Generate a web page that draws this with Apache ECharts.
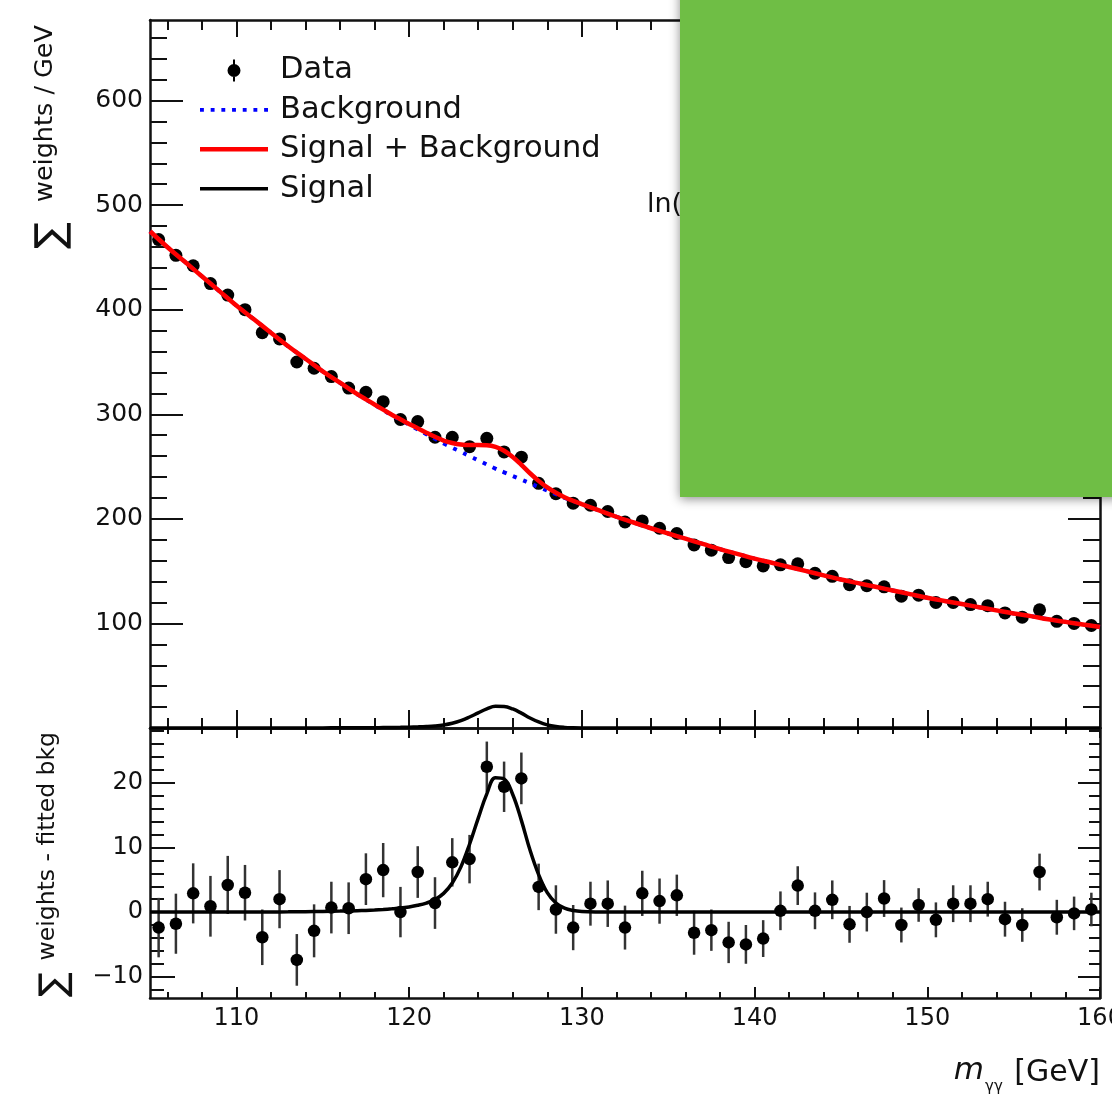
<!DOCTYPE html>
<html>
<head>
<meta charset="utf-8">
<script src="https://cdn.jsdelivr.net/npm/echarts@6/dist/echarts.min.js"></script>
<style>
  html, body { margin: 0; padding: 0; background: #ffffff; }
  #chart { width: 1112px; height: 1095px; }
</style>
</head>
<body>
<div id="chart"></div>
<script>
// Diphoton mass spectrum, ln(1+S/B) weighted, 1 GeV bins
const binCenters = [105.5,106.5,107.5,108.5,109.5,110.5,111.5,112.5,113.5,114.5,
  115.5,116.5,117.5,118.5,119.5,120.5,121.5,122.5,123.5,124.5,
  125.5,126.5,127.5,128.5,129.5,130.5,131.5,132.5,133.5,134.5,
  135.5,136.5,137.5,138.5,139.5,140.5,141.5,142.5,143.5,144.5,
  145.5,146.5,147.5,148.5,149.5,150.5,151.5,152.5,153.5,154.5,
  155.5,156.5,157.5,158.5,159.5];

// Sum of weights per GeV in each bin
const sumWeights = [467,452,442,425,414,400,378,372,350,344,
  336,325,321,312,295,293,278,278,269,277,
  264,259,234,224,215,213,207,197,198,191,
  186,175,170,163,159,155,156,157,148,145,
  137,136,135,126,127,120,120,118,117,110,
  106,113,102,100,98];

// Sum of weights minus the fitted background
const residuals = [-2.4,-1.8,2.9,0.9,4.2,3.0,-3.9,2.0,-7.4,-2.9,
  0.7,0.6,5.1,6.5,0.0,6.2,1.4,7.7,8.2,22.5,
  19.4,20.7,3.9,0.4,-2.4,1.3,1.3,-2.4,2.9,1.7,
  2.6,-3.2,-2.8,-4.7,-5.0,-4.1,0.2,4.1,0.2,1.9,
  -1.9,0.0,2.1,-2.0,1.1,-1.2,1.3,1.3,2.0,-1.1,
  -2.0,6.2,-0.8,-0.2,0.4];

// Statistical uncertainty of each bin
const binErrors = [4.6,4.65,4.65,4.7,4.5,4.3,4.3,4.5,4.0,4.1,
  4.0,4.0,4.0,4.2,3.9,4.0,4.0,3.75,3.75,3.9,
  3.9,4.0,3.6,3.75,3.5,3.4,3.6,3.4,3.5,3.5,
  3.2,3.4,3.2,3.2,3.0,2.85,3.0,3.0,2.85,3.0,
  2.85,3.0,2.85,2.7,2.6,2.7,2.85,2.85,2.7,2.7,
  2.6,2.85,2.7,2.6,2.6];

// Fitted curves, sampled more finely around the peak
const curveMass = [105,106,107,108,109,110,111,112,113,114,115,116,117,
  117.5,118,118.5,119,119.5,120,120.5,121,121.5,122,122.5,123,123.5,124,124.5,
  125,125.5,126,126.5,127,127.5,128,128.5,129,129.5,130,
  131,132,133,134,135,136,137,138,139,140,141,142,143,144,145,
  146,147,148,149,150,151,152,153,154,155,156,157,158,159,160];

const bkgCurve = [475,460,446,432,418,404,391,378,365,353,341,330,319,
  314,309,304,299,294.5,290,285.5,281,276.5,272,268,264,260,256,252,
  248,244.5,241,237.5,234,230.5,227,223.5,220,217,214,
  208,202,196.5,191,186,181,176,171,166.5,162,158,154,150,146,142,
  138.5,135,131.5,128,124.5,121.5,118.5,115.5,112.5,109.5,107,104,101.5,99,96.5];

const sigCurve = [0,0,0,0,0,0,0,0.02,0.04,0.07,0.1,0.15,0.22,
  0.26,0.32,0.4,0.5,0.62,0.8,1.05,1.4,1.95,2.9,4.5,7.0,10.5,14.5,18.3,
  20.8,20.6,18.2,14.2,9.6,5.8,3.0,1.4,0.6,0.25,0.1,
  0.02,0,0,0,0,0,0,0,0,0,0,0,0,0,0,
  0,0,0,0,0,0,0,0,0,0,0,0,0,0,0];

// Axis ticks and labels
const massRange = [105, 160];
const xMajorTicks = [110,120,130,140,150,160];
const xMinorTicks = [106,108,112,114,116,118,122,124,126,128,132,134,136,138,
  142,144,146,148,152,154,156,158];
const topRange = [0, 677];
const topMajorTicks = [0,100,200,300,400,500,600];
const topLabels = [100,200,300,400,500,600];
const topMinorTicks = [20,40,60,80,120,140,160,180,220,240,260,280,320,340,360,380,
  420,440,460,480,520,540,560,580,620,640,660];
const bottomRange = [-13.3, 28.5];
const bottomMajorTicks = [-10,0,10,20];
const bottomMinorTicks = [-12,-8,-6,-4,-2,2,4,6,8,12,14,16,18,22,24,26,28];

const FONT = 'DejaVu Sans';
const INK = '#111111';

const chart = echarts.init(document.getElementById('chart'), null, { renderer: 'canvas' });

function xAxisCfg(gridIndex, position, ticks, len, showLine, labelValues) {
  return {
    type: 'value', gridIndex: gridIndex, position: position,
    min: massRange[0], max: massRange[1],
    axisLine: { show: showLine, onZero: false, lineStyle: { color: INK, width: 2.5 } },
    axisTick: { show: true, inside: true, length: len, customValues: ticks,
      lineStyle: { color: INK, width: 2 } },
    axisLabel: labelValues ? {
      show: true, customValues: labelValues, margin: 9,
      fontFamily: FONT, fontSize: 24, color: INK
    } : { show: false },
    splitLine: { show: false }
  };
}

function yAxisCfg(gridIndex, position, range, ticks, len, showLine, labelValues, fmt) {
  return {
    type: 'value', gridIndex: gridIndex, position: position,
    min: range[0], max: range[1],
    axisLine: { show: showLine, onZero: false, lineStyle: { color: INK, width: 2.5 } },
    axisTick: { show: true, inside: true, length: len, customValues: ticks,
      lineStyle: { color: INK, width: 2 } },
    axisLabel: labelValues ? {
      show: true, customValues: labelValues, margin: 7,
      fontFamily: FONT, fontSize: gridIndex === 0 ? 25 : 24,
      color: INK, formatter: fmt
    } : { show: false },
    splitLine: { show: false }
  };
}

const minusFmt = function (v) { return String(v).replace('-', '\u2212'); };

function errorBarItem(params, api) {
  const x = api.value(0), y = api.value(1), e = api.value(2);
  const lo = api.coord([x, y - e]);
  const hi = api.coord([x, y + e]);
  return {
    type: 'line',
    shape: { x1: lo[0], y1: lo[1], x2: hi[0], y2: hi[1] },
    style: { stroke: '#333333', lineWidth: 2.5 }
  };
}

const dataPoints = binCenters.map((m, i) => [m, sumWeights[i]]);
const dataBars = binCenters.map((m, i) => [m, sumWeights[i], binErrors[i]]);
const residPoints = binCenters.map((m, i) => [m, residuals[i]]);
const residBars = binCenters.map((m, i) => [m, residuals[i], binErrors[i]]);
const bkgLine = curveMass.map((m, i) => [m, bkgCurve[i]]);
const sigLine = curveMass.map((m, i) => [m, sigCurve[i]]);
const sbLine = curveMass.map((m, i) => [m, bkgCurve[i] + sigCurve[i]]);

// Legend glyphs: marker with error bar, dotted, thick and plain lines
const dataIcon = 'path://M5.5,0h2v22h-2z M0,11a6.5,6.5 0 1,1 13,0a6.5,6.5 0 1,1 -13,0z';
const dottedIcon = 'path://M0,0h4v4h-4z M11,0h4v4h-4z M22,0h4v4h-4z M33,0h4v4h-4z M44,0h4v4h-4z M55,0h4v4h-4z M66,0h4v4h-4z';
const thickIcon = 'path://M0,0h70v4.5h-70z';
const thinIcon = 'path://M0,0h70v3.5h-70z';

const option = {
  animation: false,
  backgroundColor: '#ffffff',
  grid: [
    { left: 150, top: 20, width: 950, height: 708, outerBoundsMode: 'none', containLabel: false },
    { left: 150, top: 728, width: 950, height: 270, outerBoundsMode: 'none', containLabel: false }
  ],
  xAxis: [
    xAxisCfg(0, 'bottom', xMajorTicks, 18, true, null),
    xAxisCfg(0, 'bottom', xMinorTicks, 10, false, null),
    xAxisCfg(0, 'top', xMajorTicks, 17, true, null),
    xAxisCfg(0, 'top', xMinorTicks, 10, false, null),
    xAxisCfg(1, 'bottom', xMajorTicks, 11, true, xMajorTicks),
    xAxisCfg(1, 'bottom', xMinorTicks, 6, false, null),
    xAxisCfg(1, 'top', xMajorTicks, 10, true, null),
    xAxisCfg(1, 'top', xMinorTicks, 6, false, null)
  ],
  yAxis: [
    yAxisCfg(0, 'left', topRange, topMajorTicks, 33, true, topLabels),
    yAxisCfg(0, 'left', topRange, topMinorTicks, 17, false, null),
    yAxisCfg(0, 'right', topRange, topMajorTicks, 32, true, null),
    yAxisCfg(0, 'right', topRange, topMinorTicks, 17, false, null),
    yAxisCfg(1, 'left', bottomRange, bottomMajorTicks, 25, true, bottomMajorTicks, minusFmt),
    yAxisCfg(1, 'left', bottomRange, bottomMinorTicks, 14, false, null),
    yAxisCfg(1, 'right', bottomRange, bottomMajorTicks, 22, true, null),
    yAxisCfg(1, 'right', bottomRange, bottomMinorTicks, 11, false, null)
  ],
  legend: {
    orient: 'vertical', left: 195, top: 50,
    itemWidth: 68, itemHeight: 22, itemGap: 8.4,
    selectedMode: false,
    textStyle: { fontFamily: FONT, fontSize: 30.5, color: INK, lineHeight: 22,
      padding: [0, 0, 0, 7] },
    data: [
      { name: 'Data', icon: dataIcon },
      { name: 'Background', icon: dottedIcon },
      { name: 'Signal + Background', icon: thickIcon },
      { name: 'Signal', icon: thinIcon }
    ]
  },
  series: [
    {
      name: 'Data', type: 'scatter', xAxisIndex: 0, yAxisIndex: 0,
      data: dataPoints, symbol: 'circle', symbolSize: 13,
      itemStyle: { color: '#000000', opacity: 1 }, z: 3
    },
    {
      name: 'Data uncertainty', type: 'custom', xAxisIndex: 0, yAxisIndex: 0,
      renderItem: errorBarItem, data: dataBars, encode: { x: 0, y: 1 },
      itemStyle: { color: '#333333' }, z: 2
    },
    {
      name: 'Background', type: 'line', xAxisIndex: 0, yAxisIndex: 0,
      data: bkgLine, symbol: 'none', smooth: 0.4,
      itemStyle: { color: '#0000ff' },
      lineStyle: { color: '#0000ff', width: 4, type: [4, 7] }, z: 4
    },
    {
      name: 'Signal + Background', type: 'line', xAxisIndex: 0, yAxisIndex: 0,
      data: sbLine, symbol: 'none', smooth: 0.4,
      itemStyle: { color: '#ff0000' },
      lineStyle: { color: '#ff0000', width: 4.5 }, z: 5
    },
    {
      name: 'Signal', type: 'line', xAxisIndex: 0, yAxisIndex: 0,
      data: sigLine, symbol: 'none', smooth: 0.4,
      itemStyle: { color: '#000000' },
      lineStyle: { color: '#000000', width: 3.5 }, z: 5
    },
    {
      name: 'Residual uncertainty', type: 'custom', xAxisIndex: 4, yAxisIndex: 4,
      renderItem: errorBarItem, data: residBars, encode: { x: 0, y: 1 },
      itemStyle: { color: '#333333' }, z: 2
    },
    {
      name: 'Residual', type: 'scatter', xAxisIndex: 4, yAxisIndex: 4,
      data: residPoints, symbol: 'circle', symbolSize: 12.5,
      itemStyle: { color: '#000000', opacity: 1 }, z: 3
    },
    {
      name: 'Signal component', type: 'line', xAxisIndex: 4, yAxisIndex: 4,
      data: sigLine, symbol: 'none', smooth: 0.4,
      itemStyle: { color: '#000000' },
      lineStyle: { color: '#000000', width: 3.5 }, z: 5
    }
  ],
  graphic: [
    {
      type: 'text', x: 647, y: 205, z: 50,
      style: { text: 'ln(1+S/B) weighted sum', fontFamily: FONT, fontSize: 27,
        fill: INK, align: 'left', verticalAlign: 'middle' }
    },
    {
      type: 'rect', z: 100,
      shape: { x: 680, y: -20, width: 460, height: 517 },
      style: { fill: '#6fbe45', shadowBlur: 10, shadowColor: 'rgba(0,0,0,0.45)', shadowOffsetY: 2 }
    },
    // vertical title, upper panel
    {
      type: 'text', x: 45, y: 25, rotation: Math.PI / 2, z: 10,
      style: { text: 'weights / GeV', fontFamily: FONT, fontSize: 25.5,
        fill: INK, align: 'right', verticalAlign: 'middle' }
    },
    {
      type: 'text', x: 53, y: 249, rotation: Math.PI / 2, z: 10,
      style: { text: '\u2211', fontFamily: FONT, fontSize: 40,
        fill: INK, align: 'left', verticalAlign: 'middle' }
    },
    // vertical title, lower panel
    {
      type: 'text', x: 48, y: 732, rotation: Math.PI / 2, z: 10,
      style: { text: 'weights - fitted bkg', fontFamily: FONT, fontSize: 23.5,
        fill: INK, align: 'right', verticalAlign: 'middle' }
    },
    {
      type: 'text', x: 55, y: 997, rotation: Math.PI / 2, z: 10,
      style: { text: '\u2211', fontFamily: FONT, fontSize: 37,
        fill: INK, align: 'left', verticalAlign: 'middle' }
    },
    // mass axis title
    {
      type: 'text', x: 1100, y: 1073, z: 10,
      style: { text: '[GeV]', fontFamily: FONT, fontSize: 30,
        fill: INK, align: 'right', verticalAlign: 'middle' }
    },
    {
      type: 'text', x: 984, y: 1071, z: 10,
      style: { text: 'm', fontFamily: FONT, fontStyle: 'italic', fontSize: 31,
        fill: INK, align: 'right', verticalAlign: 'middle' }
    },
    {
      type: 'text', x: 985, y: 1087, z: 10,
      style: { text: '\u03b3\u03b3', fontFamily: FONT, fontSize: 15,
        fill: INK, align: 'left', verticalAlign: 'middle' }
    }
  ]
};

chart.setOption(option);
</script>
</body>
</html>
